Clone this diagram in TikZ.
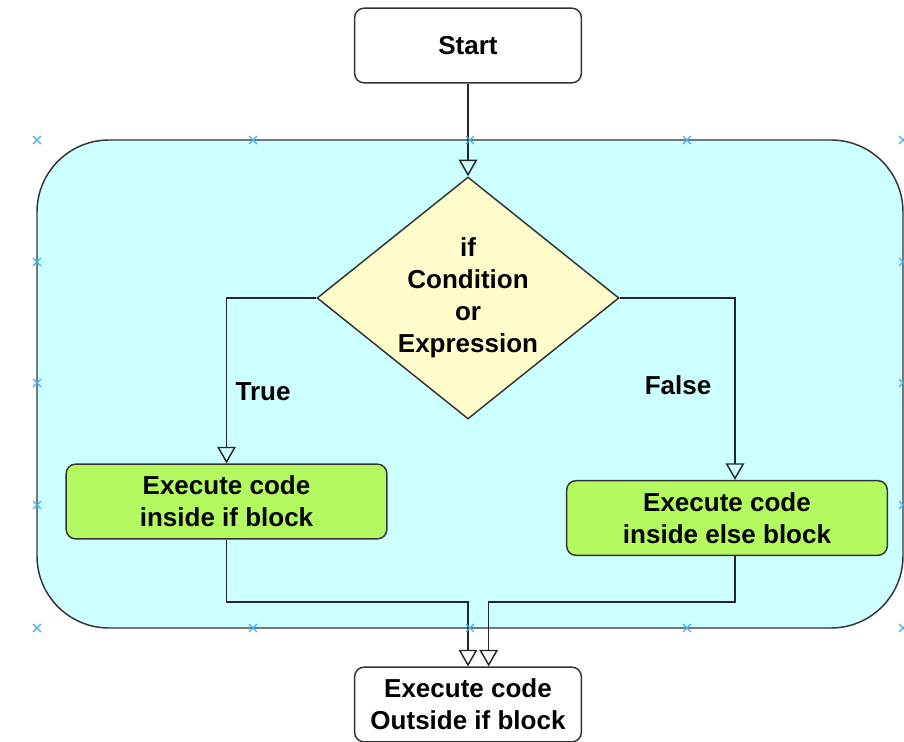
\documentclass[tikz,border=0pt]{standalone}
\usepackage{fontspec}
\setmainfont{Liberation Sans}
\usetikzlibrary{arrows.meta,positioning,shapes.geometric}

\definecolor{bodycyan}{RGB}{204,255,255}
\definecolor{condyellow}{RGB}{255,252,204}
\definecolor{blockgreen}{RGB}{178,250,95}
\definecolor{handleblue}{RGB}{70,175,235}

\begin{document}
\begin{tikzpicture}[x=0.75pt,y=-0.75pt,
txt/.style={font=\bfseries\fontsize{19.5}{24}\selectfont,align=center},
term/.style={txt,draw=black!80,line width=1.1pt,rounded corners=7pt,fill=white,
    minimum width=170pt,minimum height=56pt},
block/.style={txt,draw=black!80,line width=1.1pt,rounded corners=7pt,fill=blockgreen,
    minimum width=240.5pt,minimum height=56pt},
decision/.style={txt,diamond,aspect=1.25,draw=black!80,line width=1.1pt,fill=condyellow,
    inner sep=0pt,minimum width=226.5pt,minimum height=181.5pt},
flow/.style={draw=black!85,line width=1.1pt,-{Triangle[open,width=14pt,length=12.5pt]}},
handle/.style={handleblue,line width=1pt}]

\useasboundingbox (0,0) rectangle (904,742);

% the if-else body
\node[draw=black!80,line width=1.1pt,fill=bodycyan,rounded corners=54pt,
    minimum width=649.5pt,minimum height=366pt] (body) at (470,384) {};

\node[term] (start) at (468,45.5) {Start};
\node[decision] (cond) at (468,298) {if\\Condition\\or\\Expression};
\node[block] (ifblk) at (226.5,501.5) {Execute code\\inside if block};
\node[block] (elseblk) at (727,518) {Execute code\\inside else block};
\node[term] (after) at (468,704.5) {Execute code\\Outside if block};

\node[txt] (lblTrue) at (263,392) {True};
\node[txt] (lblFalse) at (678,385) {False};

\draw[flow] (start.south) -- (cond.north);
\draw[flow] (cond.west) -| (ifblk.north);
\draw[flow] (cond.east) -| ([xshift=6pt]elseblk.north);

% both branches join again below the body
\coordinate (mergeY) at (0,602);
\coordinate (inL) at (after.north);
\coordinate (inR) at ([xshift=15.5pt]after.north);
\draw[flow] (ifblk.south) |- (inL |- mergeY) -- (inL);
\draw[flow] ([xshift=6pt]elseblk.south) |- (inR |- mergeY) -- (inR);

% selection handles round the body
\foreach \hx in {37,253,470,687,903}
{\foreach \hy in {140,628}
    \draw[handle] (\hx,\hy) +(-4,-4) -- +(4,4) +(-4,4) -- +(4,-4);
}
\foreach \hy in {262,383,505}
{\foreach \hx in {37,903}
    \draw[handle] (\hx,\hy) +(-4,-4) -- +(4,4) +(-4,4) -- +(4,-4);
}
\end{tikzpicture}
\end{document}
